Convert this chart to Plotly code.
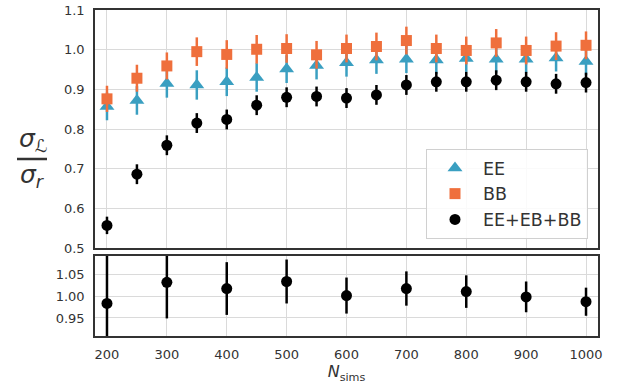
import plotly.graph_objects as go

n_sims = [200, 250, 300, 350, 400, 450, 500, 550, 600, 650, 700, 750, 800, 850, 900, 950, 1000]
ee = [0.857, 0.872, 0.915, 0.911, 0.919, 0.930, 0.951, 0.960, 0.967, 0.974, 0.976, 0.974, 0.978, 0.976, 0.976, 0.979, 0.970]
ee_err = [0.035, 0.036, 0.036, 0.037, 0.036, 0.036, 0.035, 0.035, 0.035, 0.035, 0.035, 0.035, 0.034, 0.034, 0.034, 0.034, 0.034]
bb = [0.876, 0.928, 0.959, 0.995, 0.988, 1.001, 1.003, 0.987, 1.003, 1.008, 1.023, 1.003, 0.998, 1.017, 0.998, 1.009, 1.011]
bb_err = [0.033, 0.034, 0.034, 0.036, 0.036, 0.036, 0.036, 0.035, 0.035, 0.035, 0.035, 0.035, 0.035, 0.035, 0.035, 0.035, 0.035]
all_ = [0.557, 0.686, 0.759, 0.815, 0.824, 0.860, 0.880, 0.882, 0.878, 0.886, 0.911, 0.919, 0.919, 0.923, 0.919, 0.914, 0.917]
all_err = [0.022, 0.025, 0.025, 0.025, 0.025, 0.025, 0.025, 0.025, 0.025, 0.025, 0.025, 0.025, 0.025, 0.025, 0.025, 0.025, 0.025]

ratio_n = [200, 300, 400, 500, 600, 700, 800, 900, 1000]
ratio = [0.983, 1.031, 1.017, 1.033, 1.001, 1.017, 1.010, 0.998, 0.987]
ratio_err = [0.12, 0.082, 0.06, 0.05, 0.041, 0.039, 0.037, 0.035, 0.032]

BLUE = "#3A9FC1"
ORANGE = "#EF6F3C"
TXT = "#333333"
GRID = "#DADADA"

fig = go.Figure()

def add(x, y, err, name, color, symbol, size, xa, ya, show=True, group=None):
    fig.add_trace(go.Scatter(
        x=x, y=y, mode="markers", name=name, showlegend=show,
        legendgroup=group or name,
        xaxis=xa, yaxis=ya,
        marker=dict(color=color, symbol=symbol, size=size, line=dict(width=0)),
        error_y=dict(type="data", array=err, visible=True, color=color, thickness=2.5, width=0),
    ))

add(n_sims, ee, ee_err, "EE", BLUE, "triangle-up", 13, "x", "y")
add(n_sims, bb, bb_err, "BB", ORANGE, "square", 11, "x", "y")
add(n_sims, all_, all_err, "EE+EB+BB", "black", "circle", 11, "x", "y")
add(ratio_n, ratio, ratio_err, "ratio", "black", "circle", 11, "x2", "y2", show=False)

H, W = 387, 621
L, R, T, B = 95, 23, 10, 51
pw, ph = W - L - R, H - T - B

def py(p):
    return (H - B - p) / ph

def px(p):
    return (p - L) / pw

tick_vals_x = list(range(200, 1001, 100))
axis_common = dict(
    showline=True, mirror=True, linecolor=TXT, linewidth=1.5,
    showgrid=True, gridcolor=GRID, gridwidth=1, zeroline=False,
    ticks="outside", ticklen=6, tickcolor="rgba(0,0,0,0)",
    tickfont=dict(family="DejaVu Sans", size=13, color=TXT),
    automargin=False,
)

fig.update_layout(
    width=W, height=H,
    margin=dict(l=L, r=R, t=T, b=B, autoexpand=False),
    plot_bgcolor="white", paper_bgcolor="white",
    font=dict(family="DejaVu Sans", color=TXT),
    xaxis=dict(axis_common, range=[180, 1020], tickvals=tick_vals_x, showticklabels=False,
               anchor="y", domain=[0, 1]),
    yaxis=dict(axis_common, range=[0.5, 1.1], tickvals=[0.5, 0.6, 0.7, 0.8, 0.9, 1.0, 1.1],
               ticktext=["0.5", "0.6", "0.7", "0.8", "0.9", "1.0", "1.1"],
               domain=[py(248), 1], anchor="x"),
    xaxis2=dict(axis_common, range=[180, 1020], tickvals=tick_vals_x, anchor="y2", domain=[0, 1],
                title=dict(text="<i>N</i><sub>sims</sub>", font=dict(size=16, color=TXT), standoff=4)),
    yaxis2=dict(axis_common, range=[0.909, 1.091], tickvals=[0.95, 1.0, 1.05],
                ticktext=["0.95", "1.00", "1.05"], domain=[0, py(256)], anchor="x2"),
    legend=dict(
        x=px(588), y=py(239), xanchor="right", yanchor="bottom",
        bgcolor="rgba(255,255,255,0.85)", bordercolor="#D0D0D0", borderwidth=1,
        font=dict(family="DejaVu Sans", size=17.5, color=TXT),
        itemwidth=46, tracegroupgap=0,
    ),
    showlegend=True,
)

# y-axis label as a fraction
fig.add_annotation(text="<i>σ</i><sub>ℒ</sub>", xref="paper", yref="paper",
                   x=px(33), y=py(140), xanchor="center", yanchor="middle",
                   showarrow=False, font=dict(family="DejaVu Sans", size=25, color=TXT))
fig.add_annotation(text="<i>σ</i><sub><i>r</i></sub>", xref="paper", yref="paper",
                   x=px(32), y=py(176), xanchor="center", yanchor="middle",
                   showarrow=False, font=dict(family="DejaVu Sans", size=25, color=TXT))
fig.add_shape(type="line", xref="paper", yref="paper",
              x0=px(17), x1=px(47), y0=py(159), y1=py(159),
              line=dict(color=TXT, width=2.5))

fig.write_html("out.html")
